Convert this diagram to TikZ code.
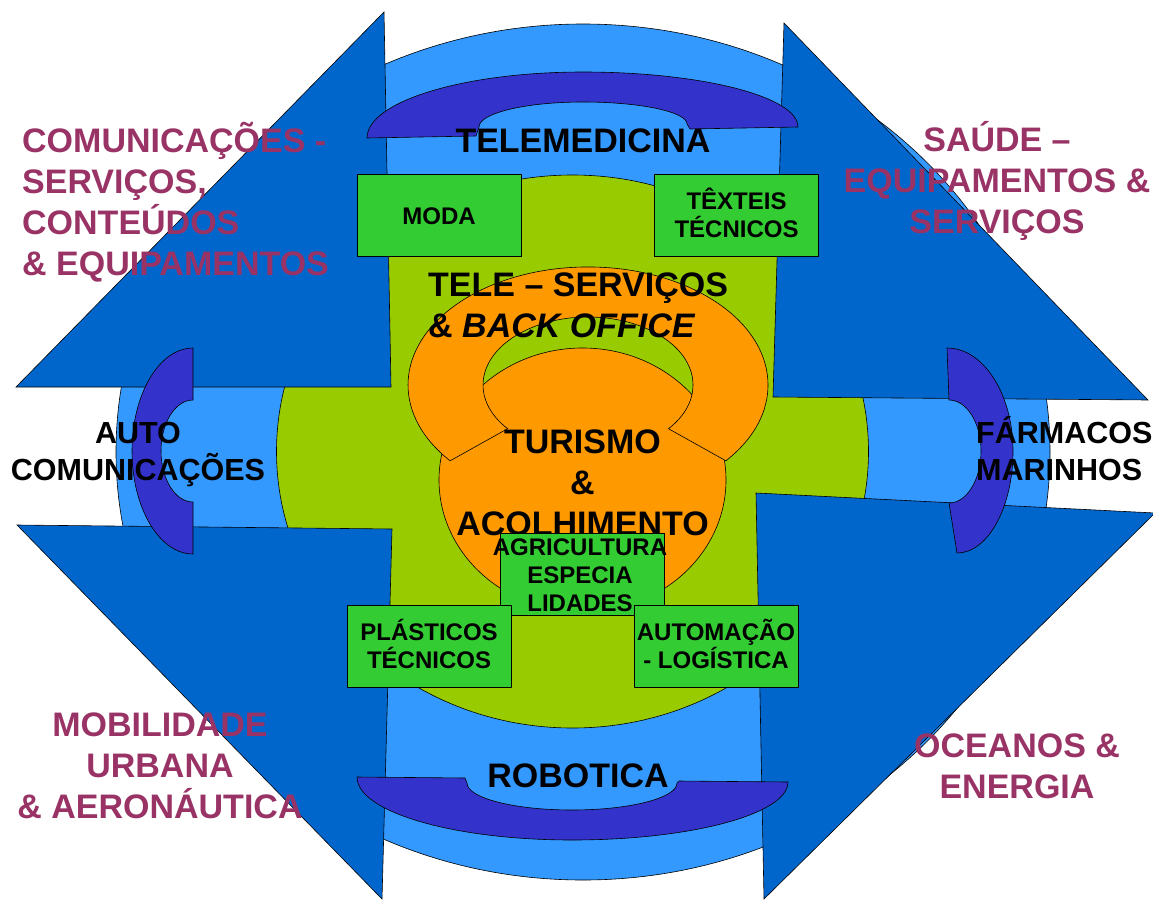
\documentclass[tikz,border=0pt]{standalone}
\usepackage{fontspec}
\setmainfont{Liberation Sans}
\usetikzlibrary{positioning}
\definecolor{skyblue}{HTML}{3399FF}
\definecolor{deepblue}{HTML}{0066CC}
\definecolor{capblue}{HTML}{3333CC}
\definecolor{lime}{HTML}{99CC00}
\definecolor{tangerine}{HTML}{FF9900}
\definecolor{boxgreen}{HTML}{33CC33}
\definecolor{plum}{HTML}{993366}

\begin{document}
\begin{tikzpicture}[x=1pt, y=-1pt,
  outline/.style={draw=black, line width=0.6pt},
  box/.style={outline, fill=boxgreen, shape=rectangle, minimum width=164pt, minimum height=82pt, inner sep=0pt},
  boxtext/.style={font=\fontsize{24}{28}\selectfont\bfseries, align=center, anchor=base},
  bigtext/.style={font=\fontsize{34}{41}\selectfont\bfseries, align=center},
  midtext/.style={font=\fontsize{30.5}{36.5}\selectfont\bfseries},
  sector/.style={font=\fontsize{34}{41}\selectfont\bfseries, text=plum}]
\useasboundingbox (0,0) rectangle (1153,899);

\path[outline, fill=skyblue] (583,452) ellipse [x radius=467, y radius=428];
\path[outline, fill=lime] (572.5,451.5) ellipse [x radius=296, y radius=276.5];

\path[outline, fill=deepblue] (384,12) -- (16,387) -- (391,387) -- cycle;
\path[outline, fill=deepblue] (784,23) -- (1148,400) -- (773,397) -- cycle;
\path[outline, fill=deepblue] (17,525) -- (392,529) -- (382,899) -- cycle;
\path[outline, fill=deepblue] (756,493) -- (1155,513) -- (764,899) -- cycle;

\path[outline, fill=capblue] (367,138) arc[start angle=180, end angle=270, x radius=216, y radius=66]
  arc[start angle=270, end angle=360, x radius=215, y radius=55] -- (690,129) -- (687,124)
  arc[start angle=0, end angle=-90, x radius=104, y radius=22]
  arc[start angle=-90, end angle=-180, x radius=104, y radius=25] -- (476,136) -- cycle;
\path[outline, fill=capblue] (357,777) -- (465,778) -- (467,783)
  arc[start angle=180, end angle=90, x radius=105, y radius=27]
  arc[start angle=90, end angle=0, x radius=105, y radius=27] -- (679,781) -- (788,782)
  arc[start angle=0, end angle=90, x radius=216, y radius=58]
  arc[start angle=90, end angle=180, x radius=215, y radius=63] -- cycle;
\path[outline, fill=capblue] (193,348) arc[start angle=-90, end angle=-180, x radius=61, y radius=103]
  arc[start angle=180, end angle=90, x radius=61, y radius=103] -- (193,502)
  arc[start angle=90, end angle=180, x radius=32, y radius=51]
  arc[start angle=180, end angle=270, x radius=32, y radius=51] -- cycle;
\path[outline, fill=capblue] (947,348) -- (949,400)
  arc[start angle=-90, end angle=0, x radius=32, y radius=51]
  arc[start angle=0, end angle=90, x radius=32, y radius=52] -- (957,553)
  arc[start angle=90, end angle=0, x radius=56, y radius=102]
  arc[start angle=0, end angle=-90, x radius=66, y radius=103] -- cycle;

\path[outline, fill=tangerine] (582.5,480) ellipse [x radius=143.5, y radius=132];
\path[outline, fill=tangerine] (725.9,460.8) arc[start angle=40, end angle=-220, x radius=180, y radius=118]
  -- (507.6,428.7) arc[start angle=140, end angle=400, x radius=105, y radius=68] -- cycle;

\begin{scope}[nodes = {inner sep = 0pt}]
\node[bigtext, anchor=base] (turismo) at (582.5,535) {TURISMO\\\&\\ACOLHIMENTO};
\node[box] (moda) at (439,215.5) {};
\node[box] (texteis) at (736.5,215.5) {};
\node[box] (agri) at (582.5,574.5) {};
\node[box] (plast) at (429,646.5) {};
\node[box] (autom) at (716,646.5) {};
\node[boxtext] (modatxt) at (439,224) {MODA};
\node[boxtext] (texteistxt) at (736.5,237) {TÊXTEIS\\TÉCNICOS};
\node[boxtext] (agritxt) at (580,611) {AGRICULTURA\\ESPECIA\\LIDADES};
\node[boxtext] (plasttxt) at (429,668) {PLÁSTICOS\\TÉCNICOS};
\node[boxtext] (automtxt) at (716,668) {AUTOMAÇÃO\\- LOGÍSTICA};

\node[bigtext, anchor=base] (telemed) at (583,152) {TELEMEDICINA};
\node[bigtext, anchor=base] (robot) at (578,787) {ROBOTICA};
\node[midtext, anchor=base, align=center] (auto) at (138,480) {AUTO\\COMUNICAÇÕES};
\node[midtext, anchor=base west, align=left] (farma) at (976,480) {FÁRMACOS\\MARINHOS};
\node[bigtext, anchor=base west, align=left] (tele) at (428,337) {TELE – SERVIÇOS\\\& \textit{BACK OFFICE}};

\node[sector, anchor=base west, align=left] (comms) at (22,275) {COMUNICAÇÕES -\\SERVIÇOS,\\CONTEÚDOS\\\& EQUIPAMENTOS};
\node[sector, anchor=base, align=center] (saude) at (997,233) {SAÚDE –\\EQUIPAMENTOS \&\\SERVIÇOS};
\node[sector, anchor=base, align=center] (mobil) at (160,818) {MOBILIDADE\\URBANA\\\& AERONÁUTICA};
\node[sector, anchor=base, align=center] (ocean) at (1017,798) {OCEANOS \&\\ENERGIA};
\end{scope}
\end{tikzpicture}
\end{document}
